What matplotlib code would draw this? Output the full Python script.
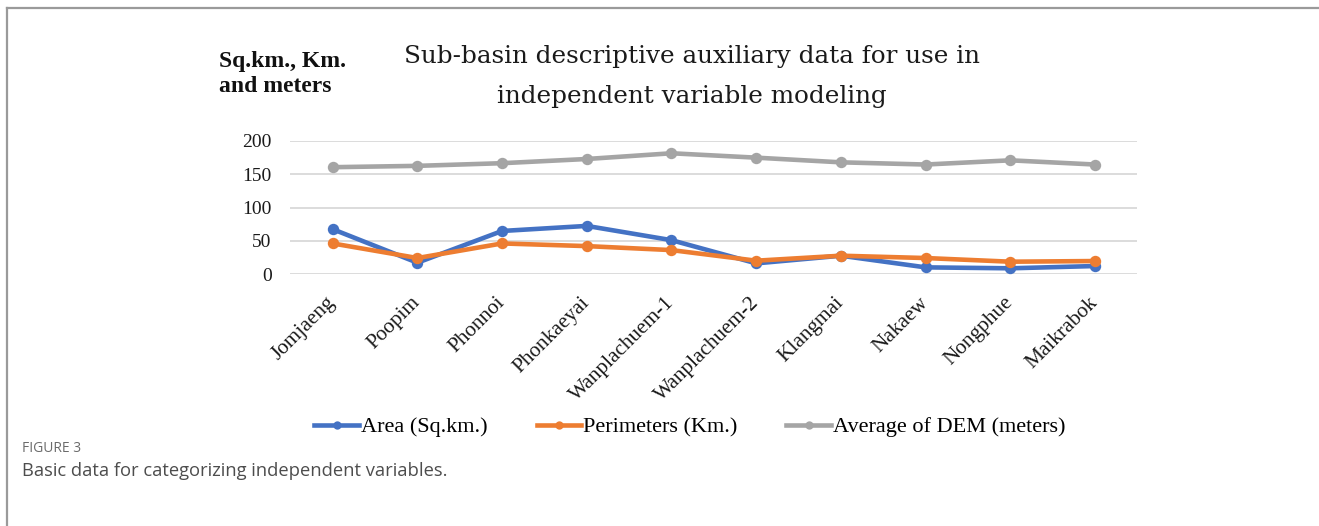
import matplotlib
matplotlib.use("Agg")
import numpy as np
import matplotlib.pyplot as plt
from matplotlib.lines import Line2D

# Sub-basin names and their descriptive values
sub_basins = ["Jomjaeng", "Poopim", "Phonnoi", "Phonkaeyai", "Wanplachuem-1",
              "Wanplachuem-2", "Klangmai", "Nakaew", "Nongphue", "Maikrabok"]
area_sqkm = [67.7, 17.4, 65.0, 72.6, 51.2, 16.4, 27.9, 10.4, 9.0, 12.4]
perimeter_km = [46.3, 24.4, 46.3, 42.3, 36.3, 20.4, 27.9, 24.4, 18.9, 19.9]
dem_mean_m = [160.7, 162.7, 166.7, 173.0, 181.6, 175.0, 168.0, 164.7, 171.0, 164.7]
y_ticks = [0, 50, 100, 150, 200]

series_labels = ["Area (Sq.km.)", "Perimeters (Km.)", "Average of DEM (meters)"]
series_colors = ["#4472C4", "#ED7D31", "#A5A5A5"]

W, H = 1319, 526
fig = plt.figure(figsize=(W / 100, H / 100), dpi=100)
fig.patch.set_facecolor("white")

serif = "Liberation Serif"

# plotting area in pixel units
left, right, top, bottom = 290.3, 1137.4, 141.0, 274.3
ax = fig.add_axes([left / W, 1 - bottom / H, (right - left) / W, (bottom - top) / H])

x = np.arange(len(sub_basins))
for vals, col in zip([area_sqkm, perimeter_km, dem_mean_m], series_colors):
    ax.plot(x, vals, color=col, lw=3.3, marker="o", markersize=8.2,
            markeredgewidth=0, solid_joinstyle="round", clip_on=False, zorder=3)

ax.set_xlim(-0.5, len(sub_basins) - 0.5)
ax.set_ylim(0, 200)
ax.set_yticks(y_ticks)
ax.set_yticklabels([str(v) for v in y_ticks], fontfamily=serif, fontsize=14)
ax.set_xticks(x)
ax.set_xticklabels(sub_basins, rotation=45, ha="right", va="center",
                   rotation_mode="anchor", fontfamily=serif, fontsize=15.3)
ax.tick_params(axis="y", length=0, pad=13.4, colors="#1a1a1a")
ax.tick_params(axis="x", length=0, pad=18.5, colors="#1a1a1a")
ax.grid(axis="y", color="#d9d9d9", lw=1.3)
ax.set_axisbelow(True)
for s in ax.spines.values():
    s.set_visible(False)
ax.patch.set_alpha(0)

# title in two lines
fig.text(692 / W, 1 - 57 / H, "Sub-basin descriptive auxiliary data for use in",
         ha="center", va="center", fontfamily="DejaVu Serif", fontsize=17.7,
         color="#1a1a1a")
fig.text(692 / W, 1 - 96 / H, "independent variable modeling",
         ha="center", va="center", fontfamily="DejaVu Serif", fontsize=17.7,
         color="#1a1a1a")

# unit label
fig.text(219 / W, 1 - 61 / H, "Sq.km., Km.", ha="left", va="center",
         fontfamily=serif, fontweight="bold", fontsize=17, color="#111111")
fig.text(219 / W, 1 - 87 / H, "and meters", ha="left", va="center",
         fontfamily=serif, fontweight="bold", fontsize=17, color="#111111")

# legend
handles = [Line2D([], [], color=c, lw=3.3, marker="o", markersize=6,
                  markeredgewidth=0) for c in series_colors]
fig.legend(handles, series_labels, loc="center", bbox_to_anchor=(690 / W, 1 - 427 / H),
           ncol=3, frameon=False, prop={"family": serif, "size": 16},
           handlelength=2.0, handletextpad=0.1, columnspacing=2.2)

# outer panel border
fig.add_artist(Line2D([7 / W, 1], [1 - 8 / H, 1 - 8 / H], color="#9a9a9a", lw=1.6,
                      transform=fig.transFigure))
fig.add_artist(Line2D([7 / W, 7 / W], [0, 1 - 8 / H], color="#9a9a9a", lw=1.6,
                      transform=fig.transFigure))

# caption
fig.text(22 / W, 1 - 448 / H, "FIGURE 3", ha="left", va="center",
         fontfamily="Open Sans", fontsize=10, color="#6b6b6b")
fig.text(22 / W, 1 - 471 / H, "Basic data for categorizing independent variables.",
         ha="left", va="center", fontfamily="Open Sans", fontsize=13.2, color="#4d4d4d")

fig.savefig("out.png", dpi=100, facecolor="white")
